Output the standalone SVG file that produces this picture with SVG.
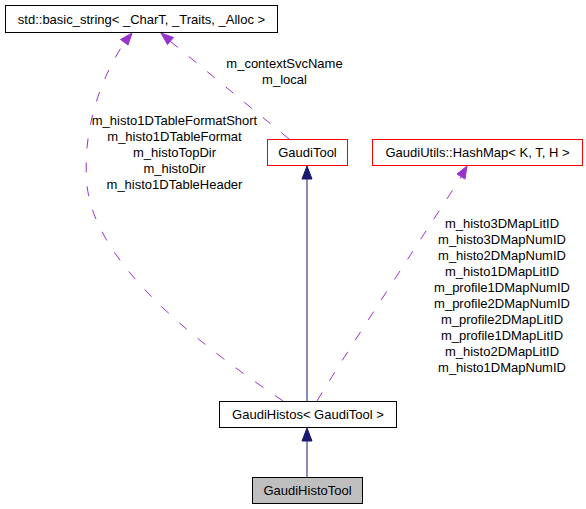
<svg xmlns="http://www.w3.org/2000/svg" width="586" height="509" viewBox="0 0 586 509">
<style>
text{font-family:"Liberation Sans",Arial,sans-serif;font-size:13px;fill:#000;text-anchor:middle}
.box{fill:#fff;stroke:#000;stroke-width:1}
.red{fill:#fff;stroke:#ff0000;stroke-width:1}
.cur{fill:#bfbfbf;stroke:#000;stroke-width:1}
.inh{fill:none;stroke:#191970;stroke-width:1}
.use{fill:none;stroke:#9a32cd;stroke-width:1;stroke-dasharray:10,14}
.ah{fill:#191970;stroke:#191970}
.ap{fill:#9a32cd;stroke:#9a32cd}
</style>
<rect width="586" height="509" fill="#fff"/>
<g id="edges">
<line class="inh" x1="307" y1="401" x2="307" y2="178"/>
<polygon class="ah" points="307,166 302,179 312,179"/>
<line class="inh" x1="307" y1="477" x2="307" y2="440"/>
<polygon class="ah" points="307,428 302,441 312,441"/>
<path class="use" d="M283,401 C200,345 95,265 87,185 C82,130 100,80 124,43"/>
<polygon class="ap" points="132,33 120.5,39.5 128,45"/>
<line class="use" x1="289" y1="139" x2="170" y2="41"/>
<polygon class="ap" points="161,33 167.5,44.5 173.5,37.5"/>
<path class="use" d="M317,401 C340,362 440,210 461,177"/>
<polygon class="ap" points="467,166 457,174 465,179"/>
<text x="284.5" y="68">m_contextSvcName</text>
<text x="284.5" y="84">m_local</text>
<text x="174.5" y="125">m_histo1DTableFormatShort</text>
<text x="174.5" y="141">m_histo1DTableFormat</text>
<text x="174.5" y="157">m_histoTopDir</text>
<text x="174.5" y="173">m_histoDir</text>
<text x="174.5" y="189">m_histo1DTableHeader</text>
<text x="502" y="228">m_histo3DMapLitID</text>
<text x="502" y="244">m_histo3DMapNumID</text>
<text x="502" y="260">m_histo2DMapNumID</text>
<text x="502" y="276">m_histo1DMapLitID</text>
<text x="502" y="292">m_profile1DMapNumID</text>
<text x="502" y="308">m_profile2DMapNumID</text>
<text x="502" y="324">m_profile2DMapLitID</text>
<text x="502" y="340">m_profile1DMapLitID</text>
<text x="502" y="356">m_histo2DMapLitID</text>
<text x="502" y="372">m_histo1DMapNumID</text>
</g>
<g id="basic_string">
<rect class="box" x="5.5" y="5.5" width="272" height="27"/>
<text x="141.5" y="24">std::basic_string&lt; _CharT, _Traits, _Alloc &gt;</text>
</g>
<g id="GaudiTool">
<rect class="red" x="267.5" y="139.5" width="80" height="26"/>
<text x="307.5" y="157">GaudiTool</text>
</g>
<g id="HashMap">
<rect class="red" x="372.5" y="139.5" width="210" height="26"/>
<text x="477.5" y="157">GaudiUtils::HashMap&lt; K, T, H &gt;</text>
</g>
<g id="GaudiHistos">
<rect class="box" x="219.5" y="401.5" width="177" height="26"/>
<text x="308" y="419">GaudiHistos&lt; GaudiTool &gt;</text>
</g>
<g id="GaudiHistoTool">
<rect class="cur" x="252.5" y="477.5" width="110" height="26"/>
<text x="307.5" y="495">GaudiHistoTool</text>
</g>
</svg>
